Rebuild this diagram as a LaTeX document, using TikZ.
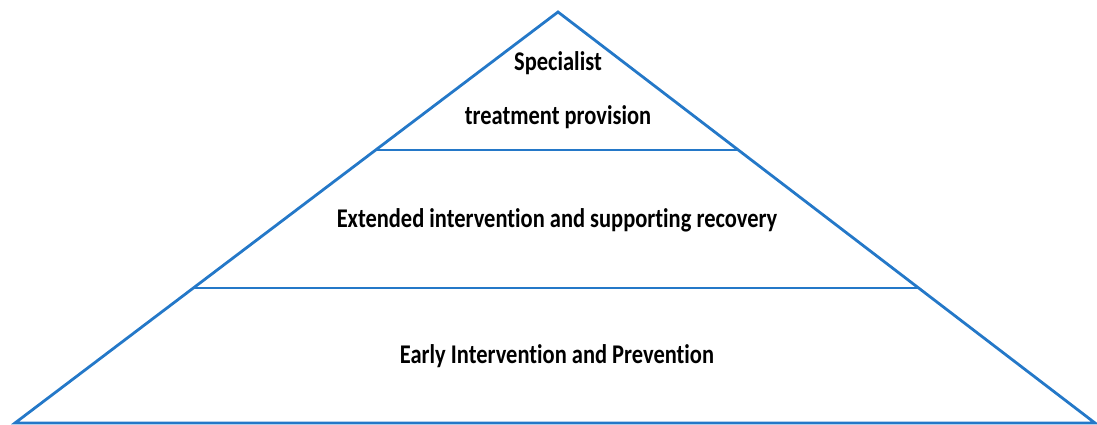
\documentclass[tikz,border=0pt]{standalone}
\usepackage{fontspec}
\setmainfont{Carlito}[Ligatures=NoCommon]
\usetikzlibrary{calc}
\definecolor{tierblue}{RGB}{36,120,200}

\begin{document}
\begin{tikzpicture}[x=1pt, y=-1pt, line width=2.8pt,
    tier/.style={font=\bfseries\fontsize{27}{32}\selectfont, xscale=0.832, transform shape, inner sep=0pt}]
		\useasboundingbox (0, 0) rectangle (1097, 425);
		% pyramid outline
		\coordinate (apex) at (558, 12);
		\coordinate (baseL) at (15, 423);
		\coordinate (baseR) at (1095, 423);
		\draw[tierblue, line join=miter] (baseL) -- (apex) -- (baseR) -- cycle;
		% tier dividers
		\draw[tierblue] ($(baseL)!0.6642!(apex)$) coordinate (topL) -- ($(baseR)!0.6642!(apex)$) coordinate (topR);
		\draw[tierblue] ($(baseL)!0.3285!(apex)$) coordinate (midL) -- ($(baseR)!0.3285!(apex)$) coordinate (midR);
		% labels
		\node[tier] (spec) at (558, 63) {Specialist};
		\node[tier] (treat) at (558, 117) {treatment provision};
		\node[tier] (ext) at (557, 220) {Extended intervention and supporting recovery};
		\node[tier] (early) at (557, 356) {Early Intervention and Prevention};
	\end{tikzpicture}
\end{document}
